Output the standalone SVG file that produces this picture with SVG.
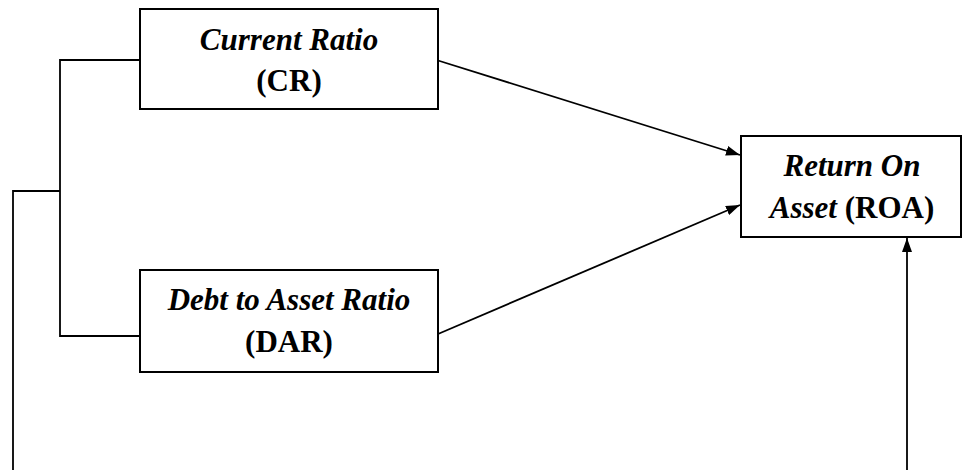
<svg xmlns="http://www.w3.org/2000/svg" width="962" height="470" viewBox="0 0 962 470">
  <style>
    .box { fill: #fff; stroke: #000; stroke-width: 2; }
    .wire { fill: none; stroke: #000; stroke-width: 1.8; }
    .lbl { font-size: 31px; font-weight: bold; fill: #000; text-anchor: middle; }
    .it { font-style: italic; }
  </style>
  <defs>
    <marker id="arrow" viewBox="0 0 14 10" refX="14" refY="5" markerWidth="14" markerHeight="10" markerUnits="userSpaceOnUse" orient="auto">
      <path d="M0,0 L14,5 L0,10 Z" fill="#000"/>
    </marker>
  </defs>
  <rect width="962" height="470" fill="#fff"/>

  <g id="connectors">
    <!-- bracket joining the two ratio boxes -->
    <polyline class="wire" points="140,60 60,60 60,336 140,336"/>
    <polyline class="wire" points="60,191 13,191 13,470"/>
    <!-- arrows into ROA -->
    <line class="wire" x1="438" y1="60.5" x2="740" y2="155" marker-end="url(#arrow)"/>
    <line class="wire" x1="438" y1="334" x2="740" y2="205" marker-end="url(#arrow)"/>
    <line class="wire" x1="907" y1="470" x2="907" y2="238" marker-end="url(#arrow)"/>
  </g>

  <g id="node-cr" font-family="Liberation Serif, Times New Roman, serif">
    <rect class="box" x="140" y="9" width="298" height="100"/>
    <text x="289" y="50" class="lbl it">Current Ratio</text>
    <text x="289" y="91" class="lbl">(CR)</text>
  </g>

  <g id="node-dar" font-family="Liberation Serif, Times New Roman, serif">
    <rect class="box" x="140" y="270" width="298" height="102"/>
    <text x="289" y="310" class="lbl it">Debt to Asset Ratio</text>
    <text x="289" y="352" class="lbl">(DAR)</text>
  </g>

  <g id="node-roa" font-family="Liberation Serif, Times New Roman, serif">
    <rect class="box" x="741" y="136" width="220" height="101"/>
    <text x="852" y="176" class="lbl it">Return On</text>
    <text x="852" y="218" class="lbl"><tspan class="it">Asset</tspan> (ROA)</text>
  </g>
</svg>
